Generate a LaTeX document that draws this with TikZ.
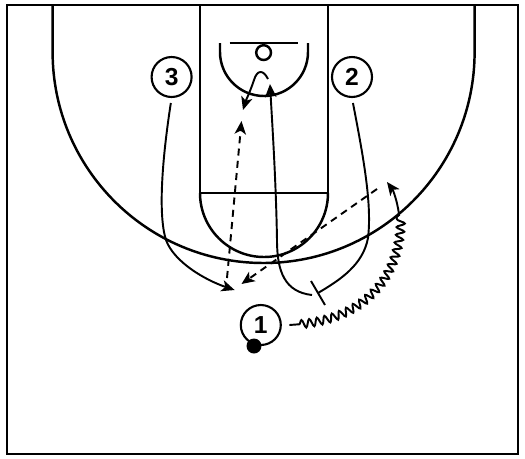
\documentclass[tikz,border=0pt]{standalone}
\usepackage{fontspec}
\setmainfont{Liberation Sans}
\usetikzlibrary{arrows.meta,decorations.pathmorphing}

\begin{document}
\begin{tikzpicture}[x=0.02cm,y=-0.02cm,
    court/.style={line width=1.4pt},
    player/.style={circle,draw,fill=white,line width=1.2pt,minimum size=0.8cm,inner sep=0pt,
      font=\fontsize{14}{14}\selectfont\bfseries},
    cut/.style={line width=1.1pt,-{Stealth[length=7.5pt,width=6.5pt,inset=2pt]}},
    pass/.style={cut,dash pattern=on 4pt off 3pt},
    dribble/.style={line width=1.1pt,decorate,
      decoration={snake,segment length=0.16cm,amplitude=0.08cm,pre length=0.2cm}},
    screenbar/.style={line width=1.1pt}]
    \useasboundingbox (0,0) rectangle (525,458);
    % Court lines
    \draw[court,line width=1.6pt] (7,5) rectangle (518,454);
    \draw[court] (52.6,5) -- (52.6,52) arc[start angle=180,end angle=0,radius=211] -- (474.6,5);
    \draw[court] (200,5) -- (200,193) -- (328,193) -- (328,5);
    \draw[court] (200,193) arc[start angle=180,end angle=0,radius=64];
    \draw[court] (220,43) -- (220,52) arc[start angle=180,end angle=0,radius=44] -- (308,43);
    \draw[court] (229.6,43) -- (297.6,43);
    \draw[court] (263.6,52.6) circle[radius=7.4];
    % Players
    \node[player] (p3) at (171.6,77) {3};
    \node[player] (p2) at (352,77) {2};
    \node[player] (p1) at (260.8,325) {1};
    \node[circle,fill=black,minimum size=0.3cm,inner sep=0pt] (ball) at (254,346) {};
    % Path end points
    \coordinate (c3) at (234.6,290);
    \coordinate (s2) at (318,293);
    \coordinate (s2a) at (311,281);
    \coordinate (s2b) at (325,305);
    \coordinate (r0) at (312,295);
    \coordinate (r1) at (270,84);
    \coordinate (r2) at (268,79);
    \coordinate (r3) at (243,110);
    \coordinate (q0) at (227,278);
    \coordinate (q1) at (241.5,121);
    \coordinate (q2) at (377,189);
    \coordinate (q3) at (241.5,284);
    \coordinate (d0) at ([xshift=0.15cm]p1.east);
    \coordinate (d1) at (399,214);
    \coordinate (d2) at (387,182);
    % Cuts and screen
    \draw[cut,shorten <=0.1cm] (p3.south) .. controls (162,160) and (158,215) .. (166,240)
      .. controls (174,262) and (205,280) .. (c3);
    \draw[screenbar,shorten <=0.1cm] (p2.south) .. controls (364,160) and (372,205) .. (368,238)
      .. controls (363,265) and (340,280) .. (s2);
    \draw[screenbar] (s2a) -- (s2b);
    \draw[cut] (r0) .. controls (285,292) and (277,272) .. (277,240)
      .. controls (276,180) and (272,120) .. (r1);
    \draw[cut] (r2) .. controls (263,69) and (257,70) .. (254,80)
      .. controls (250,92) and (246,100) .. (r3);
    % Passes
    \draw[pass] (q0) -- (q1);
    \draw[pass] (q2) -- (q3);
    % Dribble
    \draw[dribble] (d0) .. controls (355,322) and (400,285) .. (d1);
    \draw[cut] (d1) .. controls (397,200) and (393,190) .. (d2);
\end{tikzpicture}
\end{document}
